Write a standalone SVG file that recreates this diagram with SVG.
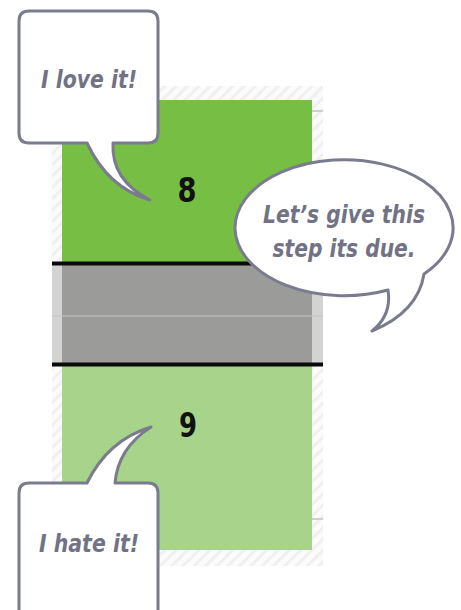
<svg xmlns="http://www.w3.org/2000/svg" width="461" height="610" viewBox="0 0 461 610">
<defs>
<pattern id="hatch" width="8" height="8" patternUnits="userSpaceOnUse" patternTransform="rotate(45)">
<rect width="8" height="8" fill="#fbfbfb"/>
<rect width="3" height="8" fill="#f0f0f0"/>
</pattern>
<style>
.bubble{fill:#ffffff;stroke:#7b7b8e;stroke-width:3;stroke-linejoin:round}
.say{font-family:"Liberation Sans Narrow","DejaVu Sans Condensed","Liberation Sans",sans-serif;font-weight:bold;font-style:italic;fill:#727285;text-anchor:middle}
.num{font-family:"Liberation Sans Narrow","DejaVu Sans Condensed","Liberation Sans",sans-serif;font-weight:bold;fill:#111;text-anchor:middle;font-size:34px}
</style>
</defs>
<g id="chart">
<rect x="52" y="86" width="271" height="480" fill="url(#hatch)"/>
<line x1="311" y1="111" x2="323" y2="111" stroke="#cfcfcf" stroke-width="2"/>
<line x1="311" y1="519" x2="323" y2="519" stroke="#cfcfcf" stroke-width="2"/>
<rect x="62" y="100" width="250" height="163" fill="#76bf44"/>
<rect x="52" y="264" width="271" height="100" fill="#d3d3d3"/>
<rect x="62" y="264" width="250" height="100" fill="#9b9c99"/>
<line x1="52" y1="316" x2="323" y2="316" stroke="#c4c4c4" stroke-width="1"/>
<rect x="62" y="366" width="250" height="184" fill="#a8d38a"/>
<rect x="52" y="261.5" width="271" height="4" fill="#0a0a0a"/>
<rect x="52" y="362.5" width="271" height="4" fill="#0a0a0a"/>
</g>
<g id="n8"><text class="num" x="187" y="202" textLength="19" lengthAdjust="spacingAndGlyphs">8</text></g>
<g id="n9"><text class="num" x="188" y="437" textLength="18" lengthAdjust="spacingAndGlyphs">9</text></g>
<g id="love">
<path class="bubble" d="M29,11 H148 Q158,11 158,21 V133 Q158,143 148,143 H113 Q111,180 150,200 Q108,188 87,143 H29 Q19,143 19,133 V21 Q19,11 29,11 Z"/>
<text class="say" x="89" y="88" font-size="24" textLength="96" lengthAdjust="spacingAndGlyphs">I love it!</text>
</g>
<g id="hate">
<path class="bubble" d="M19,620 V493 Q19,483 29,483 H87 Q108,440 151,427 Q118,448 115,483 H148 Q158,483 158,493 V620"/>
<text class="say" x="89" y="552" font-size="24" textLength="100" lengthAdjust="spacingAndGlyphs">I hate it!</text>
</g>
<g id="due">
<path class="bubble" d="M424,274 A109 68 0 1 0 388,290 Q392,315 372,331 Q418,312 424,274 Z"/>
<text class="say" x="344" y="223" font-size="25" textLength="162" lengthAdjust="spacingAndGlyphs">Let’s give this</text>
<text class="say" x="344" y="257" font-size="25" textLength="143" lengthAdjust="spacingAndGlyphs">step its due.</text>
</g>
</svg>
